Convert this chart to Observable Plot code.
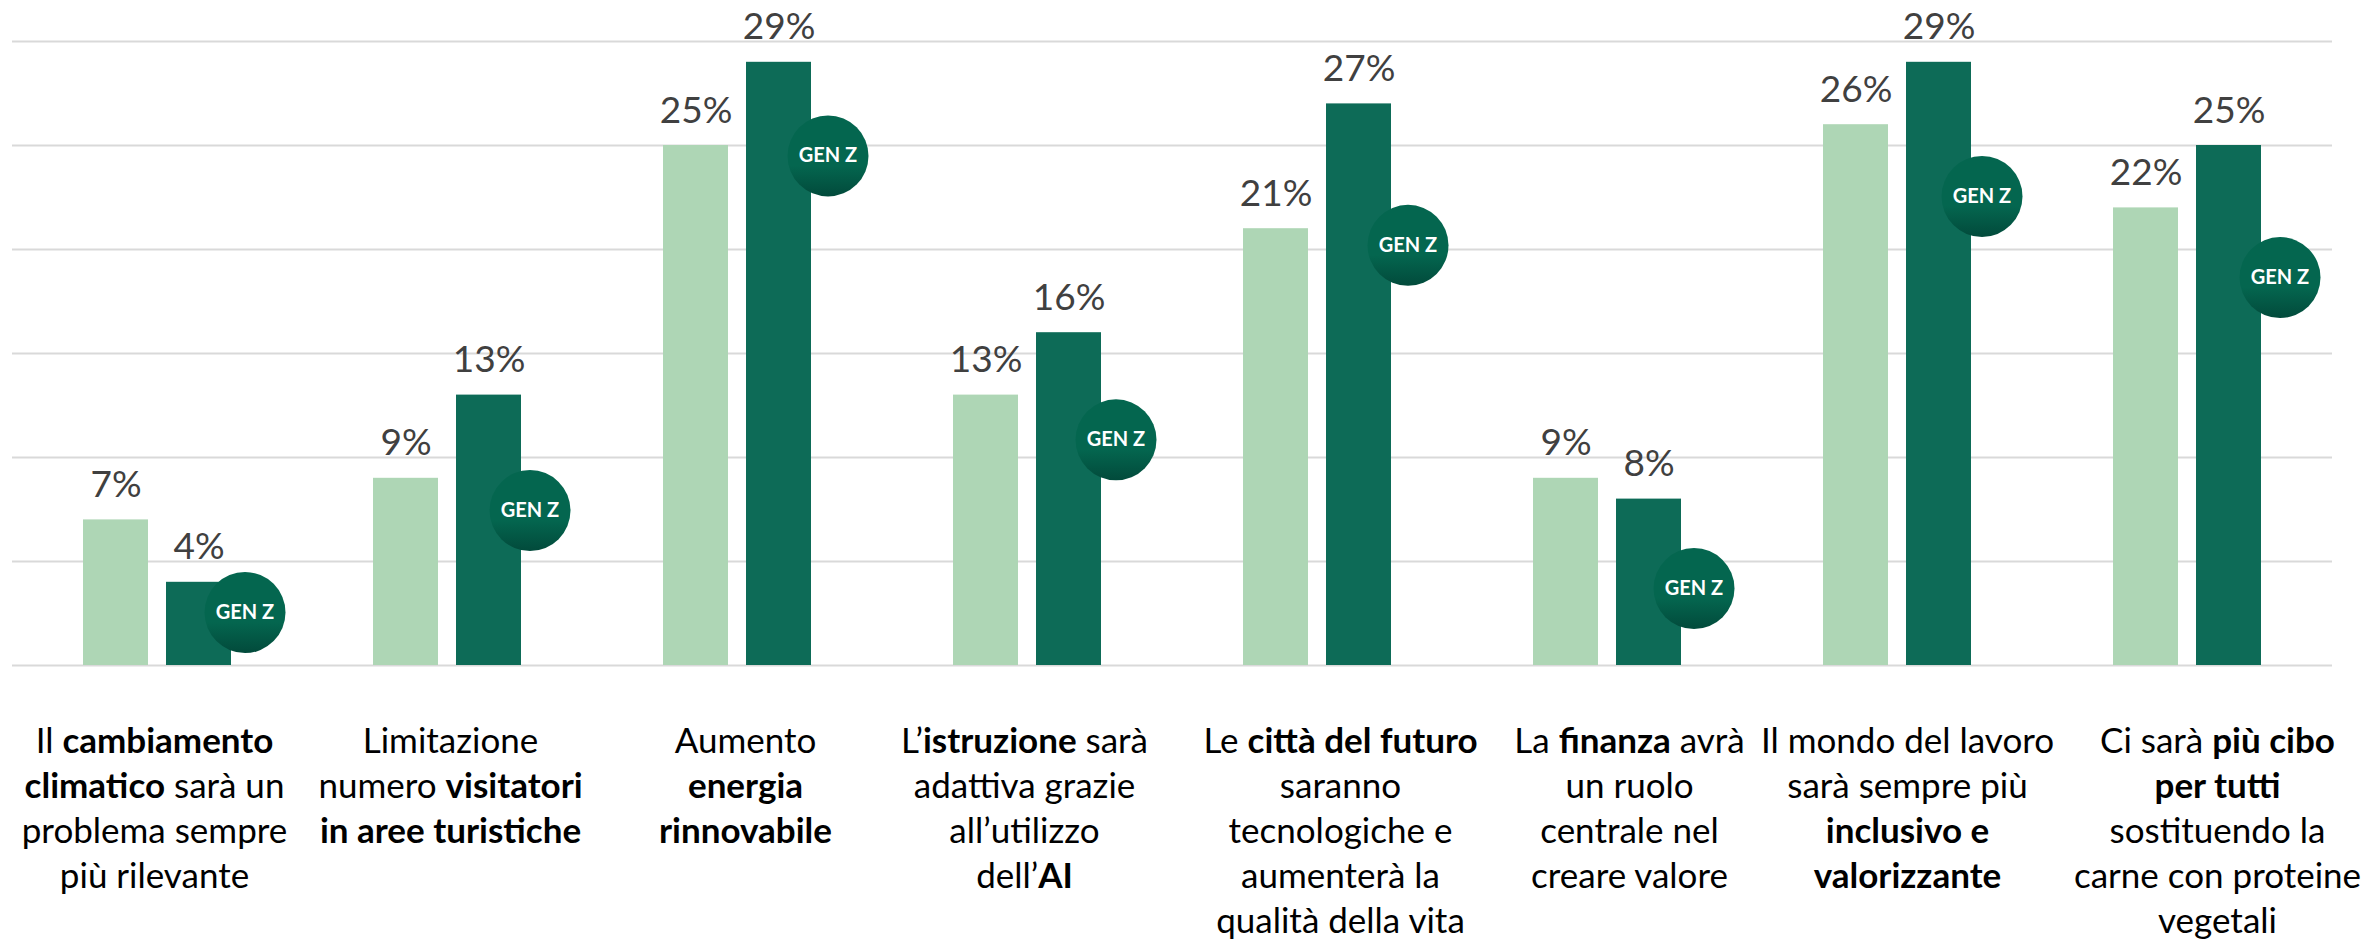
<!DOCTYPE html>
<html lang="it">
<head>
<meta charset="utf-8">
<script src="https://cdn.jsdelivr.net/npm/d3@7"></script>
<script src="https://cdn.jsdelivr.net/npm/@observablehq/plot@0.6"></script>
<style>html,body{margin:0;padding:0;background:#fff;overflow:hidden}svg{display:block}</style>
</head>
<body>
<div id="chart"></div>
<script>
const categories = ["clima", "turismo", "energia", "istruzione", "citta", "finanza", "lavoro", "cibo"];
const series = ["Totale", "Gen Z"];
const totale = [7, 9, 25, 13, 21, 9, 26, 22];
const genZ = [4, 13, 29, 16, 27, 8, 29, 25];
const badgeLevels = [2.55, 7.45, 24.5, 10.85, 20.2, 3.7, 22.55, 18.65];
const yTicks = [0, 5, 10, 15, 20, 25, 30];
const labels = [
  "Il **cambiamento**\n**climatico** sarà un\nproblema sempre\npiù rilevante",
  "Limitazione\nnumero **visitatori**\n**in aree turistiche**",
  "Aumento\n**energia**\n**rinnovabile**",
  "L’**istruzione** sarà\nadattiva grazie\nall’utilizzo\ndell’**AI**",
  "Le **città del futuro**\nsaranno\ntecnologiche e\naumenterà la\nqualità della vita",
  "La **finanza** avrà\nun ruolo\ncentrale nel\ncreare valore",
  "Il mondo del lavoro\nsarà sempre più\n**inclusivo e**\n**valorizzante**",
  "Ci sarà **più cibo**\n**per tutti**\nsostituendo la\ncarne con proteine\nvegetali"
];
const labelShift = [-3, 3, 8, -3, 23, 22, 10, 30];
const badgeShift = [46, 41, 49, 47, 49, 45, 43, 51];

const rows = categories.flatMap((c, i) => [
  {category: c, series: series[0], value: totale[i]},
  {category: c, series: series[1], value: genZ[i]}
]);
const font = "Lato";

const gradient = () => {
  const svg = d3.create("svg:defs");
  const g = svg.append("linearGradient").attr("id", "genz").attr("x1", 0).attr("y1", 0).attr("x2", 0).attr("y2", 1);
  g.append("stop").attr("offset", "0%").attr("stop-color", "#04664f");
  g.append("stop").attr("offset", "62%").attr("stop-color", "#04664f");
  g.append("stop").attr("offset", "100%").attr("stop-color", "#024a3b");
  return svg.node();
};

const boldMarkup = (index, scales, values, dims, ctx, next) => {
  const g = next(index, scales, values, dims, ctx);
  g.querySelectorAll("tspan").forEach(t => {
    t.innerHTML = t.textContent.replace(/\*\*(.+?)\*\*/g, '<tspan font-weight="700">$1</tspan>');
  });
  return g;
};

const plot = Plot.plot({
  width: 2374,
  height: 939,
  marginTop: 41,
  marginBottom: 274,
  marginLeft: 12,
  marginRight: 42,
  style: {fontFamily: font, background: "#fff"},
  fx: {domain: categories, padding: 0, axis: null},
  x: {domain: series, paddingInner: 0.215, paddingOuter: 0.84, axis: null},
  y: {domain: [0, 30], axis: null},
  color: {domain: series, range: ["#aed6b5", "#0d6b57"]},
  marks: [
    gradient,
    Plot.ruleY(yTicks, {stroke: "#d9d9d9", strokeWidth: 2, strokeOpacity: 1}),
    Plot.barY(rows, {fx: "category", x: "series", y: "value", fill: "series"}),
    Plot.text(rows, {
      fx: "category", x: "series", y: "value", text: d => `${d.value}%`,
      dy: -23, lineAnchor: "bottom", fontSize: 37, fill: "#404040", fontFamily: font
    }),
    ...categories.flatMap((c, i) => {
      const badge = [{category: c, series: series[1], level: badgeLevels[i]}];
      const opts = {fx: "category", x: "series", y: "level", dx: badgeShift[i]};
      return [
        Plot.dot(badge, {...opts, r: 40.5, fill: "url(#genz)", stroke: "none"}),
        Plot.text(badge, {...opts, text: () => "GEN Z", fill: "#fff", fontSize: 20, fontWeight: 700, fontFamily: font})
      ];
    }),
    ...categories.map((c, i) => Plot.text([labels[i]], {
      fx: () => c, text: d => d, frameAnchor: "bottom", lineAnchor: "top",
      dx: labelShift[i], dy: 55, fontSize: 35, lineHeight: 1.29, fill: "#000", fontFamily: font,
      render: boldMarkup
    }))
  ]
});
document.getElementById("chart").append(plot);
</script>
</body>
</html>
